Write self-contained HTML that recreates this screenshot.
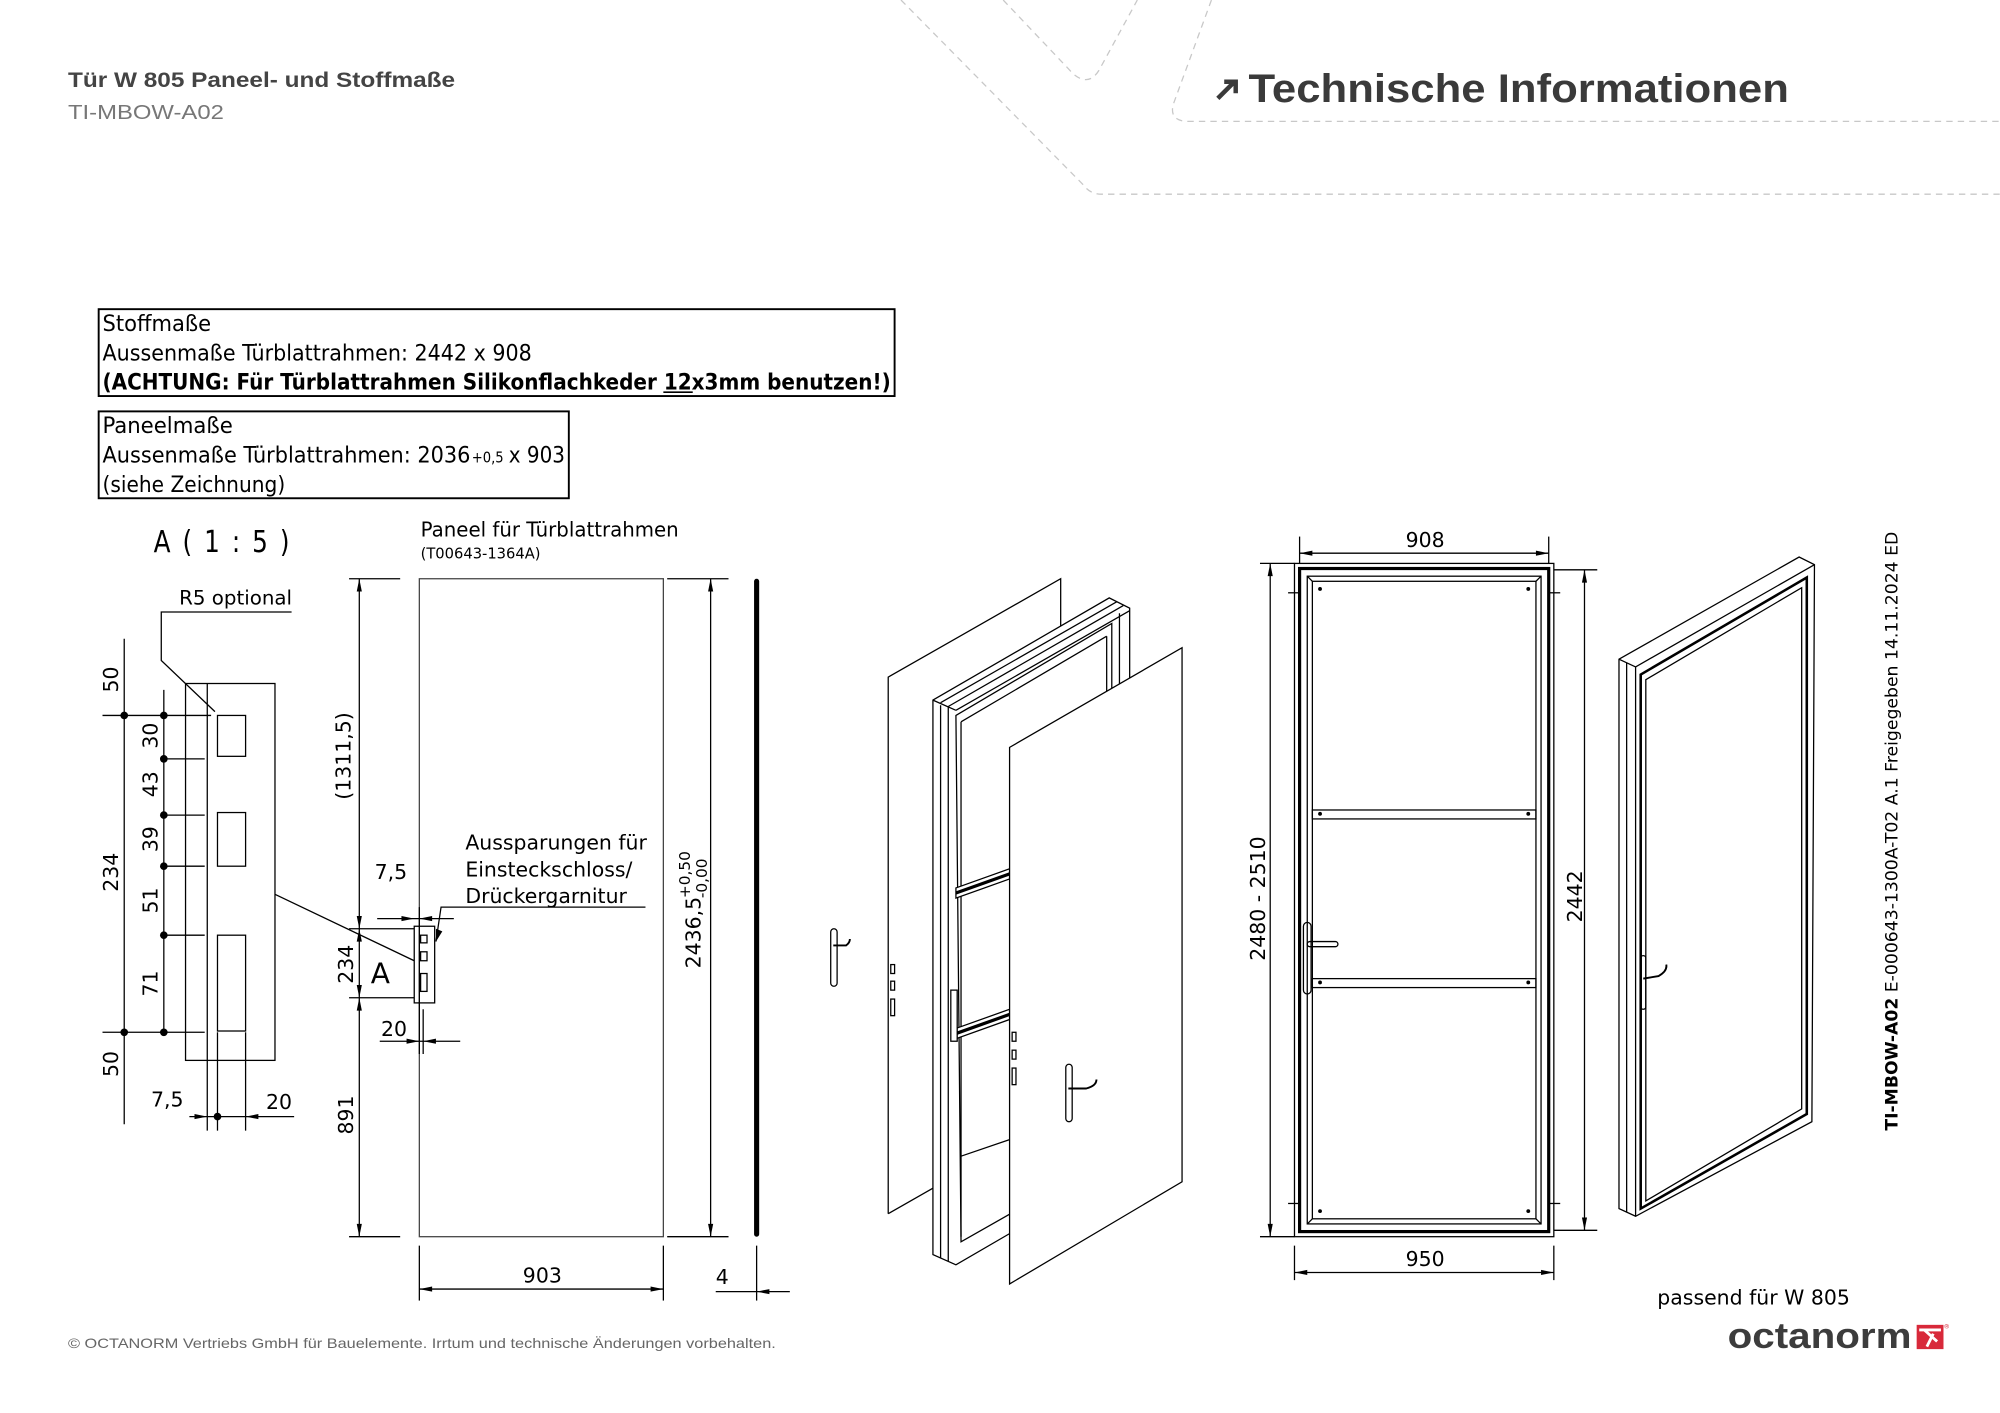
<!DOCTYPE html>
<html><head><meta charset="utf-8"><style>
html,body{margin:0;padding:0;background:#fff;}
svg{display:block;}
</style></head><body>
<svg width="2000" height="1413" viewBox="0 0 1565 1106" xmlns="http://www.w3.org/2000/svg" font-family="'DejaVu Sans', 'Liberation Sans', sans-serif">
<rect width="1565" height="1106" fill="#fff"/>
<g fill="none" stroke="#c8c8c8" stroke-width="1" stroke-dasharray="5,4">
<path d="M705,0 L848,145 Q853,152 862,152 L1565,152"/>
<path d="M785,0 L840,58 Q852,68 860,55 L890,0"/>
<path d="M948,0 L918,82 Q915,95 930,95 L1565,95"/>
</g>
<text x="53" y="68" font-family="'Liberation Sans',sans-serif" font-weight="bold" font-size="16.5" fill="#444" textLength="303" lengthAdjust="spacingAndGlyphs">Tür W 805 Paneel- und Stoffmaße</text>
<text x="53" y="93" font-family="'Liberation Sans',sans-serif" font-size="16" fill="#777" textLength="122" lengthAdjust="spacingAndGlyphs">TI-MBOW-A02</text>
<path d="M953,77 L965,65 M958,64 L967,64 L967,73" stroke="#3a3a3a" stroke-width="3.5" fill="none"/>
<text x="977" y="80" font-family="'Liberation Sans',sans-serif" font-weight="bold" font-size="31" fill="#3a3a3a" textLength="423" lengthAdjust="spacingAndGlyphs">Technische Informationen</text>

<rect x="77" y="242" width="623" height="68" fill="none" stroke="#000" stroke-width="1.5"/>
<g font-family="'DejaVu Sans Condensed','DejaVu Sans',sans-serif" font-size="17.5" fill="#000">
<text x="80" y="259" textLength="85" lengthAdjust="spacingAndGlyphs">Stoffmaße</text>
<text x="80" y="282" textLength="336" lengthAdjust="spacingAndGlyphs">Aussenmaße Türblattrahmen: 2442 x 908</text>
<text x="80" y="305" font-weight="bold" textLength="617" lengthAdjust="spacingAndGlyphs">(ACHTUNG: Für Türblattrahmen Silikonflachkeder 12x3mm benutzen!)</text>
<line x1="519" y1="307" x2="542" y2="307" stroke="#000" stroke-width="1.3"/>
</g>
<rect x="77" y="322" width="368" height="68" fill="none" stroke="#000" stroke-width="1.5"/>
<g font-family="'DejaVu Sans Condensed','DejaVu Sans',sans-serif" font-size="17.5" fill="#000">
<text x="80" y="339" textLength="102" lengthAdjust="spacingAndGlyphs">Paneelmaße</text>
<text x="80" y="362" textLength="288" lengthAdjust="spacingAndGlyphs">Aussenmaße Türblattrahmen: 2036</text>
<text x="369" y="362" font-size="12" textLength="25" lengthAdjust="spacingAndGlyphs">+0,5</text>
<text x="398" y="362" textLength="44" lengthAdjust="spacingAndGlyphs">x 903</text>
<text x="80" y="385" textLength="143" lengthAdjust="spacingAndGlyphs">(siehe Zeichnung)</text>
</g>

<text x="120" y="432" font-size="24" letter-spacing="2" textLength="108" lengthAdjust="spacingAndGlyphs">A ( 1 : 5 )</text>
<text x="140" y="473" font-size="15.5">R5 optional</text>
<g stroke="#000" stroke-width="1" fill="none">
<polyline points="228,479 126,479 126,517 168,557"/>
<rect x="145" y="535" width="70" height="295"/>
<line x1="162" y1="535" x2="162" y2="885"/>
<line x1="170" y1="808" x2="170" y2="885"/>
<line x1="192" y1="808" x2="192" y2="885"/>
<rect x="170" y="560" width="22" height="32"/>
<rect x="170" y="636" width="22" height="42"/>
<rect x="170" y="732" width="22" height="75"/>
<line x1="97" y1="500" x2="97" y2="880"/>
<line x1="128" y1="540" x2="128" y2="808"/>
<line x1="80" y1="560" x2="165" y2="560"/>
<line x1="128" y1="594" x2="160" y2="594"/>
<line x1="128" y1="638" x2="160" y2="638"/>
<line x1="128" y1="678" x2="160" y2="678"/>
<line x1="128" y1="732" x2="160" y2="732"/>
<line x1="80" y1="808" x2="160" y2="808"/>
<line x1="148" y1="874" x2="230" y2="874"/>
<line x1="215" y1="700" x2="324" y2="752"/>
</g>
<g fill="#000">
<circle cx="97" cy="560" r="3"/><circle cx="128" cy="560" r="3"/><circle cx="128" cy="594" r="3"/>
<circle cx="128" cy="638" r="3"/><circle cx="128" cy="678" r="3"/><circle cx="128" cy="732" r="3"/>
<circle cx="97" cy="808" r="3"/><circle cx="128" cy="808" r="3"/><circle cx="170" cy="874" r="3"/>
<path d="M162,874 l-10,-2 v4z"/><path d="M192,874 l10,-2 v4z"/>
</g>
<g font-size="16">
<text transform="translate(92,542) rotate(-90)">50</text>
<text transform="translate(123,586) rotate(-90)">30</text>
<text transform="translate(123,624) rotate(-90)">43</text>
<text transform="translate(123,667) rotate(-90)">39</text>
<text transform="translate(92,698) rotate(-90)">234</text>
<text transform="translate(123,715) rotate(-90)">51</text>
<text transform="translate(123,780) rotate(-90)">71</text>
<text transform="translate(92,843) rotate(-90)">50</text>
<text x="118" y="866">7,5</text>
<text x="208" y="868">20</text>
</g>

<text x="329" y="420" font-size="16" textLength="202" lengthAdjust="spacingAndGlyphs">Paneel für Türblattrahmen</text>
<text x="329" y="437" font-size="11.5">(T00643-1364A)</text>
<g stroke="#000" stroke-width="1" fill="none">
<rect x="328" y="453" width="191" height="515" stroke="#444"/>
<line x1="273" y1="453" x2="313" y2="453"/><line x1="273" y1="968" x2="313" y2="968"/>
<line x1="522" y1="453" x2="570" y2="453"/><line x1="522" y1="968" x2="570" y2="968"/>
<line x1="281" y1="453" x2="281" y2="968"/>
<line x1="556" y1="453" x2="556" y2="968"/>
<line x1="273" y1="727" x2="324" y2="727"/><line x1="273" y1="781" x2="324" y2="781"/>
<rect x="324" y="725" width="16" height="60"/>
<rect x="329" y="732" width="5" height="6"/><rect x="329" y="745" width="5" height="7"/><rect x="329" y="762" width="5" height="14"/>
<line x1="328" y1="710" x2="328" y2="825"/><line x1="331" y1="790" x2="331" y2="825"/>
<line x1="295" y1="719" x2="355" y2="719"/>
<line x1="297" y1="815" x2="360" y2="815"/>
<polyline points="505,710 345,710 341,737"/>
<line x1="328" y1="975" x2="328" y2="1018"/><line x1="519" y1="975" x2="519" y2="1018"/>
<line x1="328" y1="1009" x2="519" y2="1009"/>
<line x1="592" y1="975" x2="592" y2="1018"/>
<line x1="560" y1="1011" x2="618" y2="1011"/>
</g>
<line x1="592" y1="455" x2="592" y2="966" stroke="#000" stroke-width="4" stroke-linecap="round"/>
<g fill="#000">
<path d="M281,453 l-2,10 h4z"/><path d="M281,968 l-2,-10 h4z"/>
<path d="M281,727 l-2,-10 h4z"/><path d="M281,727 l-2,10 h4z"/>
<path d="M281,781 l-2,-10 h4z"/><path d="M281,781 l-2,10 h4z"/>
<path d="M556,453 l-2,10 h4z"/><path d="M556,968 l-2,-10 h4z"/>
<path d="M328,1009 l10,-2 v4z"/><path d="M519,1009 l-10,-2 v4z"/>
<path d="M324,719 l-10,-2 v4z"/><path d="M328,719 l10,-2 v4z"/>
<path d="M328,815 l-10,-2 v4z"/><path d="M331,815 l10,-2 v4z"/>
<path d="M341,737 l0,-10 l5,2z"/>
<path d="M592,1011 l10,-2 v4z"/>
</g>
<g font-size="16">
<text transform="translate(274,626) rotate(-90)">(1311,5)</text>
<text transform="translate(276,770) rotate(-90)">234</text>
<text transform="translate(276,888) rotate(-90)">891</text>
<text x="293" y="688">7,5</text>
<text x="298" y="811">20</text>
<text x="290" y="770" font-size="22">A</text>
<text x="364" y="665">Aussparungen für</text>
<text x="364" y="686">Einsteckschloss/</text>
<text x="364" y="707">Drückergarnitur</text>
<text x="409" y="1004">903</text>
<text x="560" y="1005">4</text>
<text transform="translate(548,758) rotate(-90)">2436,5</text>
<text transform="translate(540,703) rotate(-90)" font-size="12">+0,50</text>
<text transform="translate(553,703) rotate(-90)" font-size="12">-0,00</text>
</g>

<g stroke="#000" stroke-width="1" fill="#fff">
<polyline points="695,950 695,530 830,453 830,650" fill="none"/>
<line x1="695" y1="950" x2="730" y2="930"/>
<polygon points="730,548 868,468 884,476 884,911 748,990 730,982"/>
<polygon points="748,560 870,488 870,905 752,972"/>
<line x1="736" y1="552" x2="736" y2="985"/>
<line x1="742" y1="553" x2="742" y2="987"/>
<line x1="730" y1="548" x2="748" y2="556"/>
<line x1="736" y1="550" x2="874" y2="471"/>
<line x1="742" y1="553" x2="879" y2="474"/>
<line x1="748" y1="556" x2="884" y2="478"/>
<line x1="752" y1="565" x2="866" y2="498"/>
<line x1="752" y1="565" x2="752" y2="968"/>
<line x1="866" y1="498" x2="866" y2="905"/>
<line x1="876" y1="480" x2="876" y2="905"/>
<polygon points="748,695 790,680 790,688 748,703"/>
<line x1="748" y1="699" x2="790" y2="684" stroke-width="2.5"/>
<polygon points="748,805 790,790 790,798 748,813"/>
<line x1="748" y1="809" x2="790" y2="794" stroke-width="2.5"/>
<line x1="752" y1="905" x2="790" y2="892"/>
<rect x="744" y="775" width="5" height="40"/>
<polygon points="790,585 925,507 925,925 790,1005"/>
<rect x="697" y="755" width="3" height="7"/><rect x="697" y="768" width="3" height="7"/><rect x="697" y="782" width="3" height="13"/>
<rect x="792" y="808" width="3" height="7"/><rect x="792" y="822" width="3" height="7"/><rect x="792" y="836" width="3" height="13"/>
<rect x="834" y="833" width="5" height="45" rx="2.5"/>
<path d="M836,852 L850,852 Q858,850 858,845" fill="none" stroke-width="1.5"/>
<rect x="650" y="727" width="5" height="45" rx="2.5"/>
<path d="M652,740 L662,740 Q665,738 665,735" fill="none" stroke-width="1.5"/>
</g>

<g stroke="#000" stroke-width="1" fill="none">
<rect x="1013" y="441" width="203" height="527"/>
<rect x="1017" y="445" width="195" height="519" stroke-width="2.5"/>
<rect x="1023" y="451" width="183" height="507"/>
<rect x="1027" y="455" width="175" height="499"/>
<line x1="1023" y1="451" x2="1027" y2="455"/><line x1="1206" y1="451" x2="1202" y2="455"/>
<line x1="1023" y1="958" x2="1027" y2="954"/><line x1="1206" y1="958" x2="1202" y2="954"/>
<rect x="1027" y="634" width="175" height="7"/>
<rect x="1027" y="766" width="175" height="7"/>
<rect x="1020" y="722" width="6" height="56" rx="3"/>
<rect x="1023" y="737" width="24" height="4" rx="2"/>
<line x1="1017" y1="433" x2="1212" y2="433"/>
<line x1="1017" y1="420" x2="1017" y2="441"/><line x1="1212" y1="420" x2="1212" y2="441"/>
<line x1="986" y1="441" x2="1013" y2="441"/><line x1="986" y1="968" x2="1013" y2="968"/>
<line x1="994" y1="441" x2="994" y2="968"/>
<line x1="1216" y1="446" x2="1250" y2="446"/><line x1="1216" y1="963" x2="1250" y2="963"/>
<line x1="1240" y1="446" x2="1240" y2="963"/>
<line x1="1013" y1="975" x2="1013" y2="1002"/><line x1="1216" y1="975" x2="1216" y2="1002"/>
<line x1="1013" y1="996" x2="1216" y2="996"/>
<line x1="1008" y1="464" x2="1016" y2="464"/><line x1="1213" y1="464" x2="1221" y2="464"/>
<line x1="1008" y1="942" x2="1016" y2="942"/><line x1="1213" y1="942" x2="1221" y2="942"/>
</g>
<g fill="#000">
<path d="M1017,433 l10,-2 v4z"/><path d="M1212,433 l-10,-2 v4z"/>
<path d="M994,441 l-2,10 h4z"/><path d="M994,968 l-2,-10 h4z"/>
<path d="M1240,446 l-2,10 h4z"/><path d="M1240,963 l-2,-10 h4z"/>
<path d="M1013,996 l10,-2 v4z"/><path d="M1216,996 l-10,-2 v4z"/>
<circle cx="1033" cy="461" r="1.5"/><circle cx="1196" cy="461" r="1.5"/>
<circle cx="1033" cy="637" r="1.5"/><circle cx="1196" cy="637" r="1.5"/>
<circle cx="1033" cy="769" r="1.5"/><circle cx="1196" cy="769" r="1.5"/>
<circle cx="1033" cy="948" r="1.5"/><circle cx="1196" cy="948" r="1.5"/>
</g>
<g font-size="16">
<text x="1100" y="428">908</text>
<text x="1100" y="991">950</text>
<text transform="translate(990,752) rotate(-90)">2480 - 2510</text>
<text transform="translate(1238,722) rotate(-90)">2442</text>
</g>

<g stroke="#000" stroke-width="1" fill="none">
<polygon points="1267,516 1408,436 1420,442 1418,878 1280,952 1267,946"/>
<polyline points="1267,516 1280,522 1420,442"/>
<line x1="1280" y1="522" x2="1280" y2="952"/>
<line x1="1273" y1="519" x2="1273" y2="949"/>
<polygon points="1284,528 1414,452 1414,872 1284,946" stroke-width="2"/>
<polygon points="1288,532 1410,460 1410,868 1288,940"/>
<rect x="1284" y="748" width="4" height="42" rx="2"/>
<path d="M1286,766 L1298,764 Q1305,760 1304,755" stroke-width="1.5"/>
</g>
<text transform="translate(1485,885) rotate(-90)" font-size="13.5"><tspan font-weight="bold">TI-MBOW-A02</tspan> E-000643-1300A-T02 A.1 Freigegeben 14.11.2024 ED</text>

<text x="1297" y="1021" font-size="16">passend für W 805</text>
<text x="1352" y="1055" font-family="'Liberation Sans',sans-serif" font-weight="bold" font-size="28" fill="#3c3c3c" textLength="144" lengthAdjust="spacingAndGlyphs">octanorm</text>
<rect x="1500" y="1037" width="21" height="19" fill="#d8293a"/>
<path d="M1502,1041 L1519,1041 M1506,1041 L1516,1050 M1508,1054 L1513,1044" stroke="#fff" stroke-width="2.2" fill="none"/>
<text x="1521" y="1040" font-size="5" fill="#d8293a">®</text>
<text x="53" y="1055" font-family="'Liberation Sans',sans-serif" font-size="11" fill="#666" textLength="554" lengthAdjust="spacingAndGlyphs">© OCTANORM Vertriebs GmbH für Bauelemente. Irrtum und technische Änderungen vorbehalten.</text>
</svg>
</body></html>
